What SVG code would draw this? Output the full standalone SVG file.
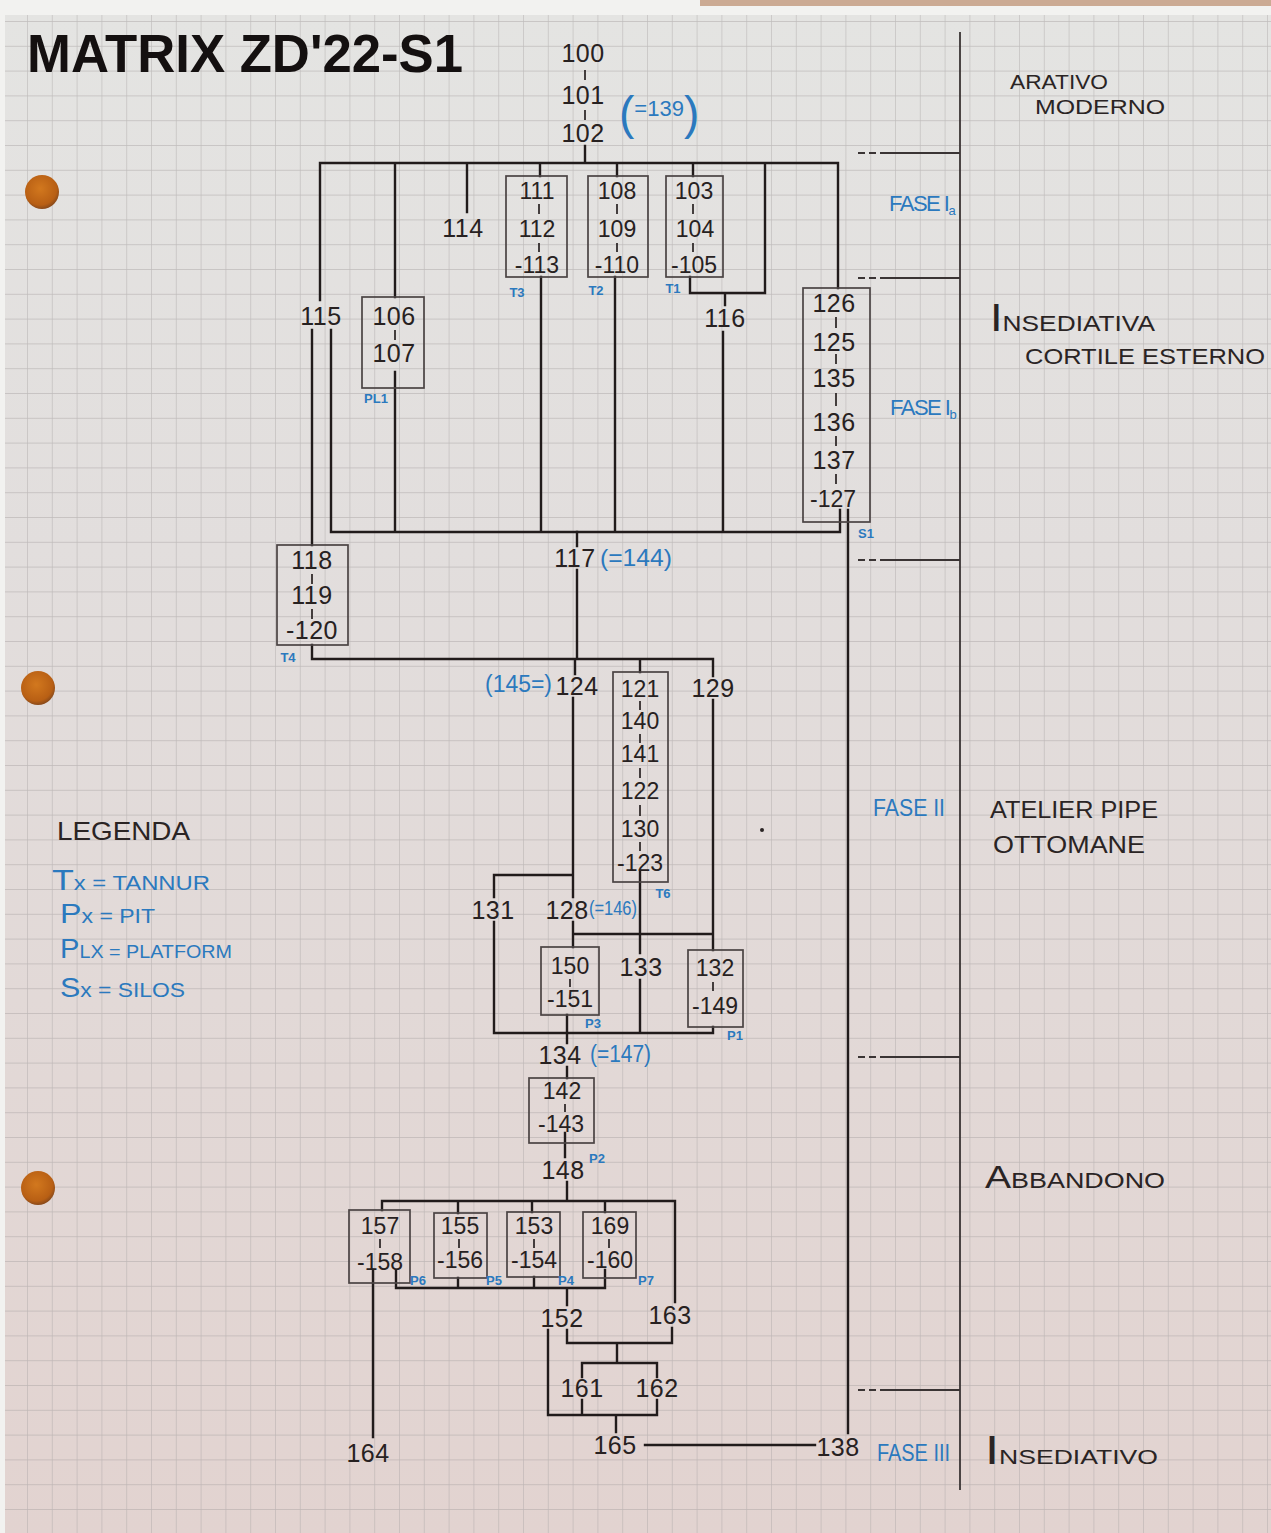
<svg xmlns="http://www.w3.org/2000/svg" width="1271" height="1533" viewBox="0 0 1271 1533">
<defs>
<linearGradient id="paper" x1="0" y1="0" x2="0" y2="1">
<stop offset="0" stop-color="#e4e4e2"/>
<stop offset="0.35" stop-color="#e2dedd"/>
<stop offset="1" stop-color="#e2d3d0"/>
</linearGradient>
<pattern id="grid" x="27" y="21" width="24.8" height="24.8" patternUnits="userSpaceOnUse">
<path d="M0 0H24.8M0 0V24.8" fill="none" stroke="#a7a2a2" stroke-width="1.3"/>
</pattern>
<radialGradient id="hole" cx="0.45" cy="0.4" r="0.6">
<stop offset="0" stop-color="#d2781e"/>
<stop offset="0.8" stop-color="#b85f14"/>
<stop offset="1" stop-color="#8a4a1a"/>
</radialGradient>
</defs>
<style>
.n{font-family:"Liberation Sans",Arial,sans-serif;font-size:25px;fill:#272121;text-anchor:middle;letter-spacing:0.5px}
.s{font-size:23px;letter-spacing:0}
.bl{font-family:"Liberation Sans",Arial,sans-serif;fill:#2b79be}
.ph{letter-spacing:-1.5px}
.tag{font-family:"Liberation Sans",Arial,sans-serif;font-size:13px;font-weight:bold;fill:#2b79be;text-anchor:middle}
.lab{font-family:"Liberation Sans",Arial,sans-serif;fill:#2a2424}
.box{fill:none;stroke:#4a4343;stroke-width:1.7}
.ln{fill:none;stroke:#211b1b;stroke-width:2.4;stroke-linecap:square}
.tk{fill:none;stroke:#272121;stroke-width:1.7}
.div{fill:none;stroke:#3a3434;stroke-width:1.8}
</style>
<rect width="1271" height="1533" fill="#f2f2f0"/>
<rect x="5" y="15" width="1266" height="1518" fill="url(#paper)"/>
<rect x="5" y="15" width="1266" height="1518" fill="url(#grid)" opacity="0.6"/>
<rect x="700" y="0" width="571" height="6" fill="#b07a55" opacity="0.6"/>
<circle cx="42" cy="192" r="17" fill="url(#hole)"/>
<circle cx="38" cy="688" r="17" fill="url(#hole)"/>
<circle cx="38" cy="1188" r="17" fill="url(#hole)"/>
<circle cx="762" cy="830" r="2" fill="#2a2424"/>

<text x="27" y="72" font-family="Liberation Sans,Arial,sans-serif" font-weight="bold" font-size="54" fill="#141010" textLength="436" lengthAdjust="spacingAndGlyphs">MATRIX ZD'22-S1</text>

<g id="connectors">
<path class="ln" d="M585 146V163M320 163H838M320 163V300M312 330V545M331 330V532M395 163V297M395 372V532M467 163V212M540 163V176M541 277V532M617 163V176M615 277V532M693 163V176M690 277V293H765V163M725 293V305M723 332V532M838 163V288M840 510V532M848 510V1433M331 532H840"/>
<path class="ln" d="M577 532V546M577 570V659M312 645V659H713M575 659V674M640 659V672M713 659V676M713 700V950M573 698V897M573 875H494V897M573 922V947M573 934H713M640 872V953M640 980V1033M494 922V1033H713M713 1027V1033"/>
<path class="ln" d="M567 1015V1043M567 1067V1078M565 1133V1157M567 1182V1201M382 1201H675M382 1201V1210M458 1201V1213M532 1201V1212M605 1201V1212M675 1201V1302M396 1270V1288H605M458 1278V1288M534 1277V1288M605 1270V1288M567 1288V1305M567 1330V1343H672V1328M548 1330V1415M617 1343V1363M582 1363H657M582 1363V1377M657 1363V1377M582 1400V1415M657 1400V1415M548 1415H657M616 1415V1432M373 1270V1437M645 1445H815"/>
</g>

<g id="phases">
<path class="div" d="M960 32V1490M880 153H960M880 278H960M880 560H960M880 1057H960M880 1390H960"/>
<path class="div" d="M858 153H878M858 278H878M858 560H878M858 1057H878M858 1390H878" stroke-dasharray="7 4"/>
<text class="bl ph" x="889" y="211" font-size="22">FASE I<tspan font-size="13" dy="4">a</tspan></text>
<text class="bl ph" x="890" y="415" font-size="22">FASE I<tspan font-size="13" dy="4">b</tspan></text>
<text class="bl" x="873" y="816" font-size="24" textLength="72" lengthAdjust="spacingAndGlyphs">FASE II</text>
<text class="bl" x="877" y="1461" font-size="24" textLength="73" lengthAdjust="spacingAndGlyphs">FASE III</text>
<text class="lab" x="1010" y="89" font-size="21" textLength="98" lengthAdjust="spacingAndGlyphs">ARATIVO</text>
<text class="lab" x="1035" y="114" font-size="21" textLength="130" lengthAdjust="spacingAndGlyphs">MODERNO</text>
<text class="lab" x="990" y="331" font-size="22" textLength="165" lengthAdjust="spacingAndGlyphs"><tspan font-size="38">I</tspan>NSEDIATIVA</text>
<text class="lab" x="1025" y="364" font-size="22" textLength="240" lengthAdjust="spacingAndGlyphs">CORTILE ESTERNO</text>
<text class="lab" x="990" y="818" font-size="23" textLength="168" lengthAdjust="spacingAndGlyphs">ATELIER PIPE</text>
<text class="lab" x="993" y="853" font-size="23" textLength="152" lengthAdjust="spacingAndGlyphs">OTTOMANE</text>
<text class="lab" x="985" y="1188" font-size="22" textLength="180" lengthAdjust="spacingAndGlyphs"><tspan font-size="32">A</tspan>BBANDONO</text>
<text class="lab" x="985" y="1464" font-size="21" textLength="173" lengthAdjust="spacingAndGlyphs"><tspan font-size="40">I</tspan>NSEDIATIVO</text>
</g>

<g id="legend">
<text class="lab" x="57" y="840" font-size="26" textLength="133" lengthAdjust="spacingAndGlyphs">LEGENDA</text>
<text class="bl" x="52" y="890" font-size="20" textLength="158" lengthAdjust="spacingAndGlyphs"><tspan font-size="30">T</tspan>x = TANNUR</text>
<text class="bl" x="60" y="923" font-size="20" textLength="95" lengthAdjust="spacingAndGlyphs"><tspan font-size="28">P</tspan>x = PIT</text>
<text class="bl" x="60" y="958" font-size="19" textLength="172" lengthAdjust="spacingAndGlyphs"><tspan font-size="28">P</tspan>LX = PLATFORM</text>
<text class="bl" x="60" y="997" font-size="21" textLength="125" lengthAdjust="spacingAndGlyphs"><tspan font-size="28">S</tspan>x = SILOS</text>
</g>

<g id="n100"><text class="n" x="583" y="62">100</text><path class="tk" d="M585 70V80"/></g>
<g id="n101"><text class="n" x="583" y="104">101</text><path class="tk" d="M585 110V120"/><text class="bl" x="619" y="129"><tspan font-size="46">(</tspan><tspan font-size="22" dy="-13">=139</tspan><tspan font-size="46" dy="13">)</tspan></text></g>
<g id="n102"><text class="n" x="583" y="142">102</text></g>
<g id="n114"><text class="n" x="463" y="237">114</text></g>
<g id="n115"><text class="n" x="321" y="325">115</text></g>
<g id="pl1"><rect class="box" x="362" y="297" width="62" height="91"/><text class="n" x="394" y="325">106</text><path class="tk" d="M395 330V340"/><text class="n" x="394" y="362">107</text><text class="tag" x="376" y="403">PL1</text></g>
<g id="t3"><rect class="box" x="506" y="176" width="61" height="101"/><text class="n s" x="537" y="199">111</text><path class="tk" d="M539 204V214"/><text class="n s" x="537" y="237">112</text><path class="tk" d="M539 243V252"/><text class="n s" x="537" y="273">-113</text><text class="tag" x="517" y="297">T3</text></g>
<g id="t2"><rect class="box" x="588" y="176" width="60" height="101"/><text class="n s" x="617" y="199">108</text><path class="tk" d="M617 204V214"/><text class="n s" x="617" y="237">109</text><path class="tk" d="M617 243V252"/><text class="n s" x="617" y="273">-110</text><text class="tag" x="596" y="295">T2</text></g>
<g id="t1"><rect class="box" x="666" y="176" width="57" height="101"/><text class="n s" x="694" y="199">103</text><path class="tk" d="M693 204V214"/><text class="n s" x="695" y="237">104</text><path class="tk" d="M693 243V252"/><text class="n s" x="694" y="273">-105</text><text class="tag" x="673" y="293">T1</text></g>
<g id="n116"><text class="n" x="725" y="327">116</text></g>
<g id="s1"><rect class="box" x="803" y="288" width="67" height="234"/><text class="n" x="834" y="312">126</text><path class="tk" d="M836 317V328"/><text class="n" x="834" y="351">125</text><path class="tk" d="M836 354V364"/><text class="n" x="834" y="387">135</text><path class="tk" d="M836 393V406"/><text class="n" x="834" y="431">136</text><path class="tk" d="M836 436V446"/><text class="n" x="834" y="469">137</text><path class="tk" d="M836 474V484"/><text class="n s" x="833" y="507">-127</text><text class="tag" x="866" y="538">S1</text></g>
<g id="n117"><text class="n" x="575" y="567">117</text><text class="bl" x="600" y="566" font-size="24" textLength="72" lengthAdjust="spacingAndGlyphs">(=144)</text></g>
<g id="t4"><rect class="box" x="277" y="545" width="71" height="100"/><text class="n" x="312" y="569">118</text><path class="tk" d="M312 574V584"/><text class="n" x="312" y="604">119</text><path class="tk" d="M312 609V619"/><text class="n" x="312" y="639">-120</text><text class="tag" x="288" y="662">T4</text></g>
<g id="n124"><text class="bl" x="485" y="692" font-size="23" textLength="67" lengthAdjust="spacingAndGlyphs">(145=)</text><text class="n" x="577" y="695">124</text></g>
<g id="t6"><rect class="box" x="613" y="672" width="55" height="210"/><text class="n s" x="640" y="697">121</text><path class="tk" d="M640 701V710"/><text class="n s" x="640" y="729">140</text><path class="tk" d="M640 734V743"/><text class="n s" x="640" y="762">141</text><path class="tk" d="M640 768V778"/><text class="n s" x="640" y="799">122</text><path class="tk" d="M640 805V816"/><text class="n s" x="640" y="837">130</text><path class="tk" d="M640 842V851"/><text class="n s" x="640" y="871">-123</text><text class="tag" x="663" y="898">T6</text></g>
<g id="n129"><text class="n" x="713" y="697">129</text></g>
<g id="n131"><text class="n" x="493" y="919">131</text></g>
<g id="n128"><text class="n" x="567" y="919">128</text><text class="bl" x="589" y="915" font-size="21" textLength="48" lengthAdjust="spacingAndGlyphs">(=146)</text></g>
<g id="p3"><rect class="box" x="541" y="947" width="58" height="68"/><text class="n s" x="570" y="974">150</text><path class="tk" d="M570 979V987"/><text class="n s" x="570" y="1007">-151</text><text class="tag" x="593" y="1028">P3</text></g>
<g id="n133"><text class="n" x="641" y="976">133</text></g>
<g id="p1"><rect class="box" x="688" y="950" width="55" height="77"/><text class="n s" x="715" y="976">132</text><path class="tk" d="M713 982V991"/><text class="n s" x="715" y="1014">-149</text><text class="tag" x="735" y="1040">P1</text></g>
<g id="n134"><text class="n" x="560" y="1064">134</text><text class="bl" x="590" y="1062" font-size="23" textLength="61" lengthAdjust="spacingAndGlyphs">(=147)</text></g>
<g id="p2"><rect class="box" x="529" y="1078" width="65" height="65"/><text class="n s" x="562" y="1099">142</text><path class="tk" d="M565 1104V1112"/><text class="n s" x="561" y="1132">-143</text><text class="tag" x="597" y="1163">P2</text></g>
<g id="n148"><text class="n" x="563" y="1179">148</text></g>
<g id="p6"><rect class="box" x="349" y="1210" width="61" height="73"/><text class="n s" x="380" y="1234">157</text><path class="tk" d="M380 1239V1248"/><text class="n s" x="380" y="1270">-158</text><text class="tag" x="418" y="1285">P6</text></g>
<g id="p5"><rect class="box" x="434" y="1213" width="53" height="65"/><text class="n s" x="460" y="1234">155</text><path class="tk" d="M459 1239V1248"/><text class="n s" x="460" y="1268">-156</text><text class="tag" x="494" y="1285">P5</text></g>
<g id="p4"><rect class="box" x="507" y="1212" width="53" height="65"/><text class="n s" x="534" y="1234">153</text><path class="tk" d="M534 1239V1248"/><text class="n s" x="534" y="1268">-154</text><text class="tag" x="566" y="1285">P4</text></g>
<g id="p7"><rect class="box" x="583" y="1212" width="53" height="66"/><text class="n s" x="610" y="1234">169</text><path class="tk" d="M609 1239V1248"/><text class="n s" x="610" y="1268">-160</text><text class="tag" x="646" y="1285">P7</text></g>
<g id="n152"><text class="n" x="562" y="1327">152</text></g>
<g id="n163"><text class="n" x="670" y="1324">163</text></g>
<g id="n161"><text class="n" x="582" y="1397">161</text></g>
<g id="n162"><text class="n" x="657" y="1397">162</text></g>
<g id="n164"><text class="n" x="368" y="1462">164</text></g>
<g id="n165"><text class="n" x="615" y="1454">165</text></g>
<g id="n138"><text class="n" x="838" y="1456">138</text></g>
</svg>
